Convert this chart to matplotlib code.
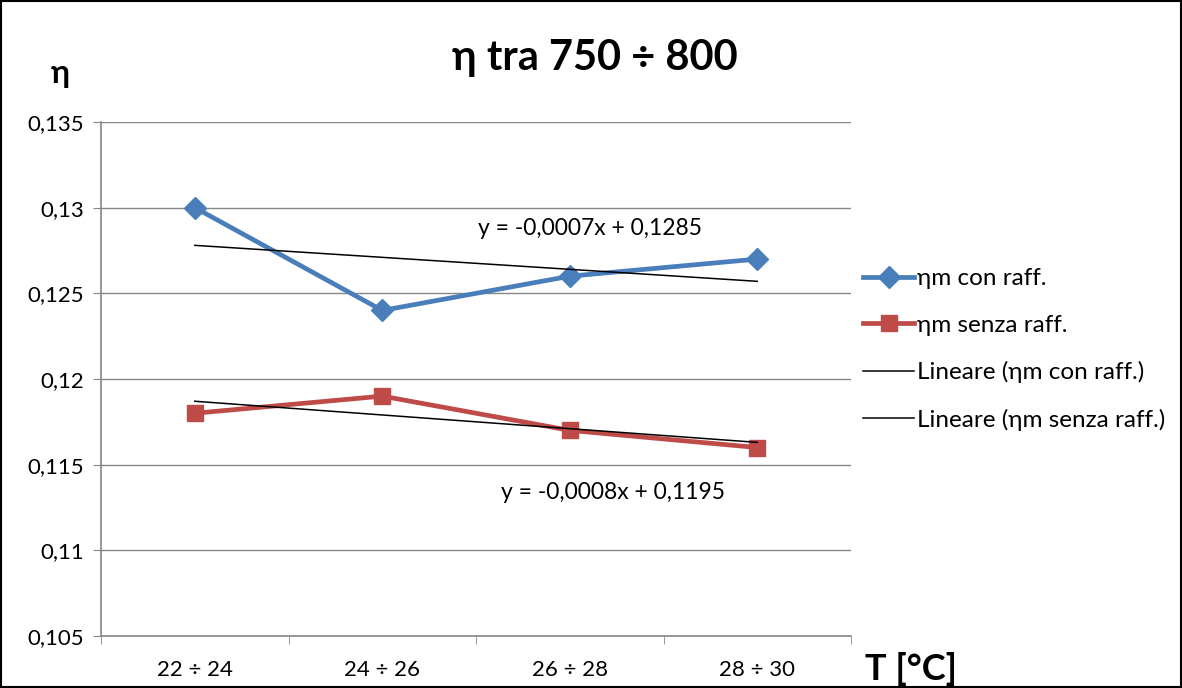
"""
eta tra 750 - 800: con / senza raffreddamento, con linee di tendenza
"""

import numpy as np
import matplotlib
matplotlib.use("Agg")
import matplotlib.pyplot as plt
import matplotlib.ticker as ticker
from matplotlib.lines import Line2D

plt.rcParams['font.family'] = ['Lato', 'DejaVu Sans']

categories = ["22 ÷ 24", "24 ÷ 26", "26 ÷ 28", "28 ÷ 30"]
eta_con = [0.130, 0.124, 0.126, 0.127]
eta_senza = [0.118, 0.119, 0.117, 0.116]
labels = ["ηm con raff.", "ηm senza raff.",
          "Lineare (ηm con raff.)", "Lineare (ηm senza raff.)"]

blue = "#4A7EBB"
red = "#BE4B48"

fig = plt.figure(figsize=(11.82, 6.88), dpi=100)
ax = fig.add_axes([0.0855, 0.0756, 0.6345, 0.7471])

x = np.arange(len(categories))
ax.plot(x, eta_con, color=blue, lw=3.4, marker="D", ms=11, zorder=3)
ax.plot(x, eta_senza, color=red, lw=3.4, marker="s", ms=12, zorder=3)

# trend lines (excel numbers categories from 1)
xn = x + 1
for vals, txt_xy in [(eta_con, (2.11, 0.1288)), (eta_senza, (2.23, 0.1134))]:
	m, q = np.polyfit(xn, vals, 1)
	ax.plot(x, m * xn + q, color="black", lw=1.1, zorder=4)
	s = "y = %.4fx + %.4f" % (m, q)
	ax.text(txt_xy[0], txt_xy[1], s.replace(".", ","), ha="center", va="center", fontsize=16.5)

ax.set_xlim(-0.5, 3.5)
ax.set_ylim(0.105, 0.135)
ax.yaxis.set_major_locator(ticker.MultipleLocator(0.005))
ax.yaxis.set_major_formatter(ticker.FuncFormatter(lambda v, p: ("%g" % round(v, 4)).replace(".", ",")))
ax.set_xticks(x)
ax.set_xticklabels(categories)
ax.set_xticks(np.arange(-0.5, 4, 1), minor=True)
ax.tick_params(axis="x", which="major", length=0, pad=17, labelsize=16)
ax.tick_params(axis="x", which="minor", length=6, color="#868686")
ax.tick_params(axis="y", length=6, color="#868686", labelsize=16, pad=6)
ax.grid(axis="y", color="#868686", lw=1)
ax.set_axisbelow(True)
for sp in ["top", "right"]:
	ax.spines[sp].set_visible(False)
for sp in ["left", "bottom"]:
	ax.spines[sp].set_color("#868686")
	ax.spines[sp].set_linewidth(1.2)

fig.text(0.503, 0.915, "η tra 750 ÷ 800", ha="center", va="center", fontsize=30, fontweight="bold")
fig.text(0.051, 0.893, "η", ha="center", va="center", fontsize=23, fontweight="bold")
fig.text(0.771, 0.027, "T [°C]", ha="center", va="center", fontsize=26, fontweight="bold")

handles = [
	Line2D([], [], color=blue, lw=3.4, marker="D", ms=11),
	Line2D([], [], color=red, lw=3.4, marker="s", ms=12),
	Line2D([], [], color="black", lw=1.1),
	Line2D([], [], color="black", lw=1.1),
]
fig.legend(handles, labels, loc="center left", bbox_to_anchor=(0.722, 0.492), frameon=False,
	fontsize=17.5, handlelength=2.1, handletextpad=0.1, labelspacing=1.05, borderaxespad=0)

fig.patches.append(plt.Rectangle((0.001, 0.001), 0.998, 0.997, transform=fig.transFigure,
	fill=False, edgecolor="black", lw=1.5))

fig.savefig("out.png", dpi=100)
